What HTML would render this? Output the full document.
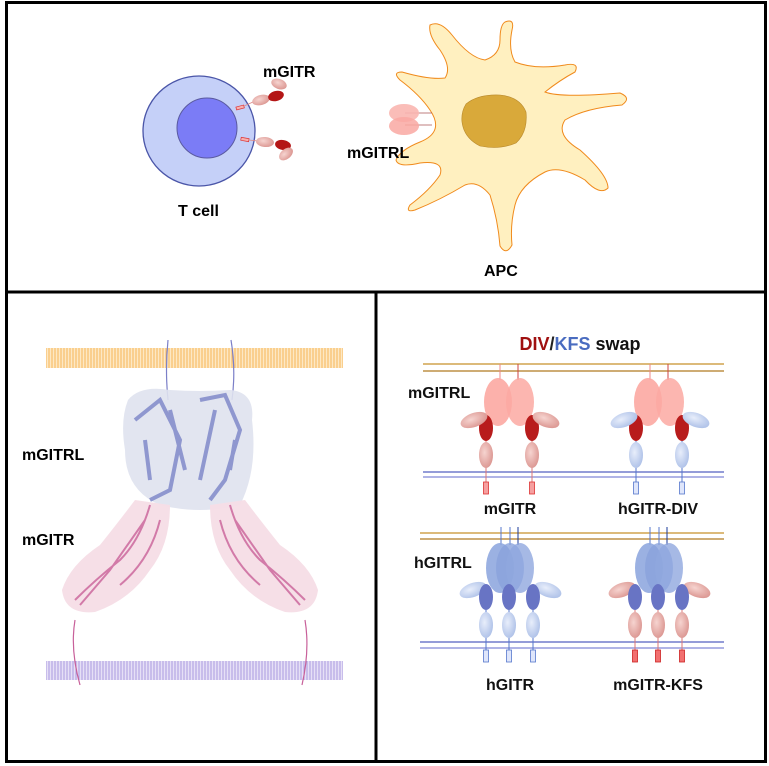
<!DOCTYPE html>
<html><head><meta charset="utf-8"><style>
html,body{margin:0;padding:0;background:#fff;}
svg{display:block;font-family:"Liberation Sans",Arial,sans-serif;font-weight:bold;}
</style></head><body>
<svg width="769" height="766" viewBox="0 0 769 766" xmlns="http://www.w3.org/2000/svg">
<defs>
<pattern id="orp" width="3" height="20" patternUnits="userSpaceOnUse"><rect width="3" height="20" fill="#fde8c4"/><line x1="1" y1="0" x2="1" y2="20" stroke="#f7b658" stroke-width="1"/></pattern>
<pattern id="pup" width="3" height="20" patternUnits="userSpaceOnUse"><rect width="3" height="20" fill="#e6e0f6"/><line x1="1" y1="0" x2="1" y2="20" stroke="#a99ae0" stroke-width="1"/></pattern>
<radialGradient id="pale" cx="0.4" cy="0.4" r="0.7"><stop offset="0" stop-color="#f6d4d0"/><stop offset="1" stop-color="#d9918c"/></radialGradient>
<radialGradient id="paleb" cx="0.4" cy="0.4" r="0.7"><stop offset="0" stop-color="#e8eefb"/><stop offset="1" stop-color="#a9bde6"/></radialGradient>
</defs>
<rect x="6.5" y="2.5" width="759" height="759" fill="#fff" stroke="#000" stroke-width="3"/>
<line x1="6" y1="292" x2="767" y2="292" stroke="#000" stroke-width="3"/>
<line x1="376" y1="292" x2="376" y2="762" stroke="#000" stroke-width="3"/>

<!-- T cell -->
<ellipse cx="199" cy="131" rx="56" ry="55" fill="#c5d0f8" stroke="#4a55a8" stroke-width="1.3"/>
<circle cx="207" cy="128" r="30" fill="#7b7cf6" stroke="#5a5aa0" stroke-width="1"/>
<rect x="236" y="106" width="8" height="3" fill="#f6b0b0" stroke="#d33" stroke-width="0.7" transform="rotate(-15 240 107)"/>
<rect x="241" y="138" width="8" height="3" fill="#f6b0b0" stroke="#d33" stroke-width="0.7" transform="rotate(10 245 139)"/>
<line x1="244" y1="106" x2="253" y2="102" stroke="#d88" stroke-width="0.8"/>
<line x1="249" y1="140" x2="258" y2="141" stroke="#d88" stroke-width="0.8"/>
<ellipse cx="261" cy="100" rx="9" ry="5" fill="url(#pale)" transform="rotate(-15 261 100)"/>
<ellipse cx="276" cy="96" rx="8" ry="5" fill="#b41616" transform="rotate(-15 276 96)"/>
<ellipse cx="279" cy="84" rx="8" ry="5" fill="url(#pale)" transform="rotate(20 279 84)"/>
<ellipse cx="265" cy="142" rx="9" ry="5" fill="url(#pale)" transform="rotate(5 265 142)"/>
<ellipse cx="283" cy="145" rx="8" ry="5" fill="#b41616" transform="rotate(10 283 145)"/>
<ellipse cx="286" cy="154" rx="8" ry="5" fill="url(#pale)" transform="rotate(-40 286 154)"/>
<text x="263" y="77" font-size="16">mGITR</text>
<text x="178" y="216" font-size="16">T cell</text>

<!-- APC -->
<path d="M505,22 Q515,18 512,30 Q508,50 515,62 Q535,70 565,65 Q580,62 575,72 Q560,80 545,92 Q560,98 620,93 Q632,98 622,105 Q585,108 565,120 Q555,135 580,150 Q608,175 608,188 Q600,196 585,180 Q560,165 545,172 Q520,185 515,205 Q510,225 512,245 Q506,256 500,246 Q498,220 490,195 Q478,180 465,185 Q440,200 415,210 Q405,213 410,205 Q430,190 440,175 Q445,160 420,163 Q398,168 396,160 Q400,150 420,142 Q445,132 430,110 Q420,95 400,80 Q392,72 402,72 Q430,80 445,78 Q452,68 440,50 Q428,35 430,25 Q440,20 452,35 Q470,58 485,60 Q500,55 500,40 Q500,25 505,22 Z" fill="#fff0c0" stroke="#f08a1c" stroke-width="1"/>
<path d="M466,104 Q478,94 500,95 Q520,97 526,112 Q528,132 516,143 Q500,150 480,146 Q464,138 462,122 Q461,112 466,104 Z" fill="#d9a93a" stroke="#b8892c" stroke-width="0.6"/>
<line x1="405" y1="113" x2="432" y2="113" stroke="#a55" stroke-width="0.8"/>
<line x1="405" y1="125" x2="432" y2="125" stroke="#a55" stroke-width="0.8"/>
<ellipse cx="404" cy="113" rx="15" ry="9" fill="#f9b6b0" opacity="0.9"/>
<ellipse cx="404" cy="126" rx="15" ry="9" fill="#f9a8a2" opacity="0.85"/>
<text x="347" y="158" font-size="16">mGITRL</text>
<text x="484" y="276" font-size="16">APC</text>

<!-- Bottom-left structure -->
<rect x="46" y="348" width="297" height="20" fill="url(#orp)"/>
<rect x="46" y="661" width="297" height="19" fill="url(#pup)"/>
<path d="M168,340 Q165,370 168,400" stroke="#7b7fc8" stroke-width="1.2" fill="none"/>
<path d="M231,340 Q236,370 232,400" stroke="#7b7fc8" stroke-width="1.2" fill="none"/>
<path d="M128,400 Q140,385 170,390 Q200,392 230,390 Q255,392 252,420 Q258,470 240,505 Q200,515 160,505 Q125,490 125,450 Q120,420 128,400 Z" fill="#dfe2ee" opacity="0.9"/>
<path d="M135,500 Q120,520 100,545 Q70,565 62,590 Q65,615 95,612 Q130,600 150,570 Q170,545 170,505 Z" fill="#f6dde6" opacity="0.95"/>
<path d="M245,500 Q260,520 280,545 Q310,565 318,590 Q315,615 285,612 Q250,600 230,570 Q210,545 210,505 Z" fill="#f6dde6" opacity="0.95"/>
<path d="M135,420 L160,400 L180,440 L170,490 L150,500 M200,400 L225,395 L240,430 L225,480 L210,500 M170,410 L185,470 M215,410 L200,480 M145,440 L150,480 M235,440 L230,470" stroke="#8f97cf" stroke-width="4" fill="none"/>
<path d="M150,505 Q140,540 120,560 Q95,580 75,600 M145,520 L110,570 L80,605 M160,520 Q150,560 120,585 M230,505 Q240,540 260,560 Q285,580 305,600 M235,520 L270,570 L300,605 M220,520 Q230,560 260,585" stroke="#d27aa8" stroke-width="2" fill="none"/>
<path d="M75,620 Q70,650 80,685" stroke="#c8609a" stroke-width="1.2" fill="none"/>
<path d="M305,620 Q310,650 302,685" stroke="#c8609a" stroke-width="1.2" fill="none"/>
<text x="22" y="460" font-size="16">mGITRL</text>
<text x="22" y="545" font-size="16">mGITR</text>

<!-- Bottom-right -->
<text x="580" y="350" font-size="18" text-anchor="middle"><tspan fill="#a01010">DIV</tspan><tspan fill="#222">/</tspan><tspan fill="#4a6cc0">KFS</tspan><tspan fill="#111"> swap</tspan></text>
<g stroke-width="1.3">
<line x1="423" y1="364" x2="724" y2="364" stroke="#c8902a"/><line x1="423" y1="371" x2="724" y2="371" stroke="#b07a20"/>
<line x1="423" y1="472" x2="724" y2="472" stroke="#5560c0"/><line x1="423" y1="477" x2="724" y2="477" stroke="#8088d8"/>
<line x1="420" y1="533" x2="724" y2="533" stroke="#c8902a"/><line x1="420" y1="539" x2="724" y2="539" stroke="#b07a20"/>
<line x1="420" y1="642" x2="724" y2="642" stroke="#5560c0"/><line x1="420" y1="648" x2="724" y2="648" stroke="#8088d8"/>
</g>
<g>
<line x1="500" y1="364" x2="500" y2="380" stroke="#e88"/><line x1="518" y1="364" x2="518" y2="380" stroke="#c44"/>
<ellipse cx="498" cy="402" rx="14" ry="24" fill="#fca9a2" opacity="0.9"/>
<ellipse cx="520" cy="402" rx="14" ry="24" fill="#fca9a2" opacity="0.85"/>
<line x1="486" y1="440" x2="486" y2="490" stroke="#d77"/><line x1="532" y1="440" x2="532" y2="490" stroke="#d77"/>
<ellipse cx="486" cy="455" rx="7" ry="13" fill="url(#pale)"/><ellipse cx="532" cy="455" rx="7" ry="13" fill="url(#pale)"/>
<ellipse cx="486" cy="428" rx="7" ry="13" fill="#b81c1c"/><ellipse cx="532" cy="428" rx="7" ry="13" fill="#b81c1c"/>
</g>
<ellipse cx="474" cy="420" rx="14" ry="7" fill="url(#pale)" transform="rotate(-20 474 420)"/>
<ellipse cx="546" cy="420" rx="14" ry="7" fill="url(#pale)" transform="rotate(20 546 420)"/>
<rect x="483.5" y="482" width="5" height="12" fill="#f6a0a0" stroke="#d33" stroke-width="0.8"/>
<rect x="529.5" y="482" width="5" height="12" fill="#f6a0a0" stroke="#d33" stroke-width="0.8"/>
<g transform="translate(150,0)">
<line x1="500" y1="364" x2="500" y2="380" stroke="#e88"/><line x1="518" y1="364" x2="518" y2="380" stroke="#c44"/>
<ellipse cx="498" cy="402" rx="14" ry="24" fill="#fca9a2" opacity="0.9"/>
<ellipse cx="520" cy="402" rx="14" ry="24" fill="#fca9a2" opacity="0.85"/>
<line x1="486" y1="440" x2="486" y2="490" stroke="#5577cc"/><line x1="532" y1="440" x2="532" y2="490" stroke="#5577cc"/>
<ellipse cx="486" cy="455" rx="7" ry="13" fill="url(#paleb)"/><ellipse cx="532" cy="455" rx="7" ry="13" fill="url(#paleb)"/>
<ellipse cx="486" cy="428" rx="7" ry="13" fill="#b81c1c"/><ellipse cx="532" cy="428" rx="7" ry="13" fill="#b81c1c"/>
<ellipse cx="474" cy="420" rx="14" ry="7" fill="url(#paleb)" transform="rotate(-20 474 420)"/>
<ellipse cx="546" cy="420" rx="14" ry="7" fill="url(#paleb)" transform="rotate(20 546 420)"/>
<rect x="483.5" y="482" width="5" height="12" fill="#dfe6fb" stroke="#5577cc" stroke-width="0.8"/>
<rect x="529.5" y="482" width="5" height="12" fill="#dfe6fb" stroke="#5577cc" stroke-width="0.8"/>
</g>
<g>
<line x1="501" y1="527" x2="501" y2="545" stroke="#5577cc"/><line x1="510" y1="527" x2="510" y2="545" stroke="#5577cc"/><line x1="518" y1="527" x2="518" y2="545" stroke="#1a3a9a"/>
<ellipse cx="500" cy="568" rx="14" ry="25" fill="#90a8df" opacity="0.9"/>
<ellipse cx="510" cy="568" rx="14" ry="25" fill="#8aa2dc" opacity="0.8"/>
<ellipse cx="520" cy="568" rx="14" ry="25" fill="#90a8df" opacity="0.8"/>
<ellipse cx="473" cy="590" rx="14" ry="7" fill="url(#paleb)" transform="rotate(-20 473 590)"/>
<ellipse cx="548" cy="590" rx="14" ry="7" fill="url(#paleb)" transform="rotate(20 548 590)"/>
<line x1="486" y1="610" x2="486" y2="662" stroke="#5577cc"/><line x1="509" y1="610" x2="509" y2="662" stroke="#5577cc"/><line x1="533" y1="610" x2="533" y2="662" stroke="#5577cc"/>
<ellipse cx="486" cy="625" rx="7" ry="13" fill="url(#paleb)"/><ellipse cx="509" cy="625" rx="7" ry="13" fill="url(#paleb)"/><ellipse cx="533" cy="625" rx="7" ry="13" fill="url(#paleb)"/>
<ellipse cx="486" cy="597" rx="7" ry="13" fill="#6874c4"/><ellipse cx="509" cy="597" rx="7" ry="13" fill="#6874c4"/><ellipse cx="533" cy="597" rx="7" ry="13" fill="#6874c4"/>
<rect x="483.5" y="650" width="5" height="12" fill="#dfe6fb" stroke="#5577cc" stroke-width="0.8"/>
<rect x="506.5" y="650" width="5" height="12" fill="#dfe6fb" stroke="#5577cc" stroke-width="0.8"/>
<rect x="530.5" y="650" width="5" height="12" fill="#dfe6fb" stroke="#5577cc" stroke-width="0.8"/>
</g>
<g transform="translate(149,0)">
<line x1="501" y1="527" x2="501" y2="545" stroke="#5577cc"/><line x1="510" y1="527" x2="510" y2="545" stroke="#5577cc"/><line x1="518" y1="527" x2="518" y2="545" stroke="#1a3a9a"/>
<ellipse cx="500" cy="568" rx="14" ry="25" fill="#90a8df" opacity="0.9"/>
<ellipse cx="510" cy="568" rx="14" ry="25" fill="#8aa2dc" opacity="0.8"/>
<ellipse cx="520" cy="568" rx="14" ry="25" fill="#90a8df" opacity="0.8"/>
<ellipse cx="473" cy="590" rx="14" ry="7" fill="url(#pale)" transform="rotate(-20 473 590)"/>
<ellipse cx="548" cy="590" rx="14" ry="7" fill="url(#pale)" transform="rotate(20 548 590)"/>
<line x1="486" y1="610" x2="486" y2="662" stroke="#d77"/><line x1="509" y1="610" x2="509" y2="662" stroke="#d77"/><line x1="533" y1="610" x2="533" y2="662" stroke="#d77"/>
<ellipse cx="486" cy="625" rx="7" ry="13" fill="url(#pale)"/><ellipse cx="509" cy="625" rx="7" ry="13" fill="url(#pale)"/><ellipse cx="533" cy="625" rx="7" ry="13" fill="url(#pale)"/>
<ellipse cx="486" cy="597" rx="7" ry="13" fill="#6874c4"/><ellipse cx="509" cy="597" rx="7" ry="13" fill="#6874c4"/><ellipse cx="533" cy="597" rx="7" ry="13" fill="#6874c4"/>
<rect x="483.5" y="650" width="5" height="12" fill="#f27070" stroke="#c22" stroke-width="0.8"/>
<rect x="506.5" y="650" width="5" height="12" fill="#f27070" stroke="#c22" stroke-width="0.8"/>
<rect x="530.5" y="650" width="5" height="12" fill="#f27070" stroke="#c22" stroke-width="0.8"/>
</g>
<g font-size="16" fill="#111">
<text x="408" y="398">mGITRL</text>
<text x="414" y="568">hGITRL</text>
<text x="510" y="514" text-anchor="middle">mGITR</text>
<text x="658" y="514" text-anchor="middle">hGITR-DIV</text>
<text x="510" y="690" text-anchor="middle">hGITR</text>
<text x="658" y="690" text-anchor="middle">mGITR-KFS</text>
</g>
</svg>
</body></html>
